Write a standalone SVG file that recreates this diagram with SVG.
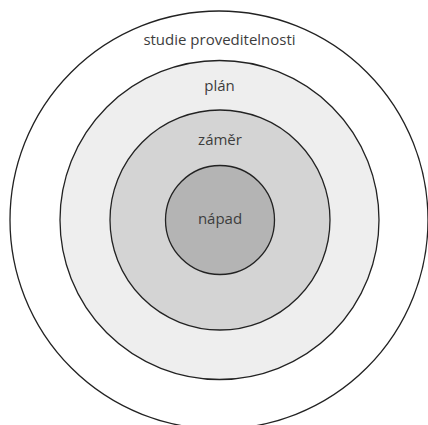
<svg xmlns="http://www.w3.org/2000/svg" width="428" height="425" viewBox="0 0 428 425">
<style>
circle{stroke:#222;stroke-width:1.3}
text{font-family:"Open Sans","DejaVu Sans",sans-serif;font-size:15px;fill:#3d3d3d;text-anchor:middle}
</style>
<rect width="428" height="425" fill="#fff"/>
<g id="studie"><circle cx="219" cy="220" r="209" fill="#fff"/><text x="219.5" y="45">studie proveditelnosti</text></g>
<g id="plan"><circle cx="219.5" cy="220" r="159.5" fill="#eeeeee"/><text x="219.5" y="91">plán</text></g>
<g id="zamer"><circle cx="220" cy="220" r="110" fill="#d4d4d4"/><text x="220" y="145">záměr</text></g>
<g id="napad"><circle cx="220" cy="220" r="54.5" fill="#b4b4b4"/><text x="220" y="224">nápad</text></g>
<g id="connectors"/>
</svg>
